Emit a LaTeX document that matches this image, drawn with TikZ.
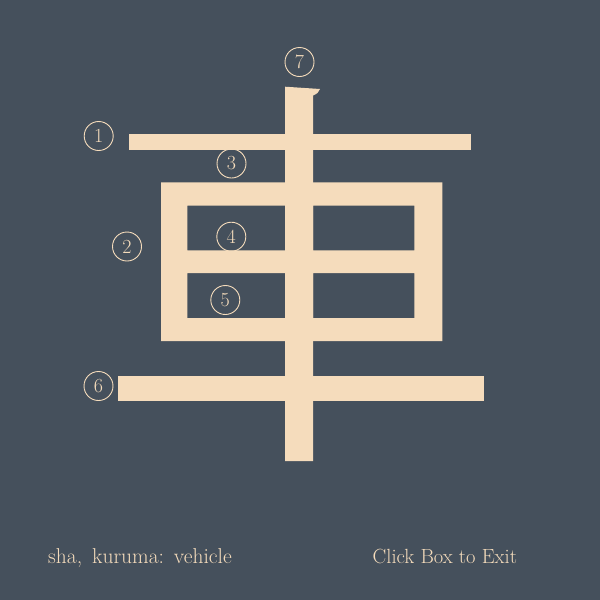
\documentclass[tikz,border=0pt]{standalone}
\usepackage{fontspec}
\begin{document}
\begin{tikzpicture}[x=1pt,y=-1pt,
  every node/.style={text=strokefill},
  num/.style={circle,draw=strokefill,line width=0.9pt,minimum size=29pt,inner sep=0pt,font=\fontsize{20}{20}\selectfont},
  stroke/.style={fill=strokefill},
  caption/.style={font=\fontsize{20.5}{21}\selectfont,anchor=base west,inner sep=0pt}]
\definecolor{bg}{HTML}{45505C}
\definecolor{strokefill}{HTML}{F5DCBC}
\useasboundingbox (0,0) rectangle (600,600);
\fill[bg] (0,0) rectangle (600,600);
% stroke 1
\fill[stroke] (129.3,134.3) rectangle (471,150.3);
% box with holes
\fill[stroke,even odd rule] (161,182.3) rectangle (442.3,341)
  (187.3,205.7) rectangle (285,250.3)
  (313,205.7) rectangle (414.3,250.3)
  (187.3,273) rectangle (285,318)
  (313,273) rectangle (414.3,318);
% stroke 6
\fill[stroke] (118,376) rectangle (484,401);
% vertical stroke 7
\fill[stroke] (285,86.7) -- (320,89) .. controls (319,92) and (317,94) .. (313,95.5) -- (313,461) -- (285,461) -- cycle;
% numbers
\node[num] (n1) at (98.7,136) {1};
\node[num] (n2) at (127,246.5) {2};
\node[num] (n3) at (231.5,163.5) {3};
\node[num] (n4) at (231.3,236.7) {4};
\node[num] (n5) at (225.3,300) {5};
\node[num] (n6) at (98.5,386) {6};
\node[num] (n7) at (299.5,62) {7};
% captions
\node[caption,font=\fontsize{21.5}{22}\selectfont] (cap) at (48,563) {sha,\hspace{10pt}kuruma:\hspace{10pt}vehicle};
\node[caption] (exit) at (372.5,563) {Click Box to Exit};
\end{tikzpicture}
\end{document}
